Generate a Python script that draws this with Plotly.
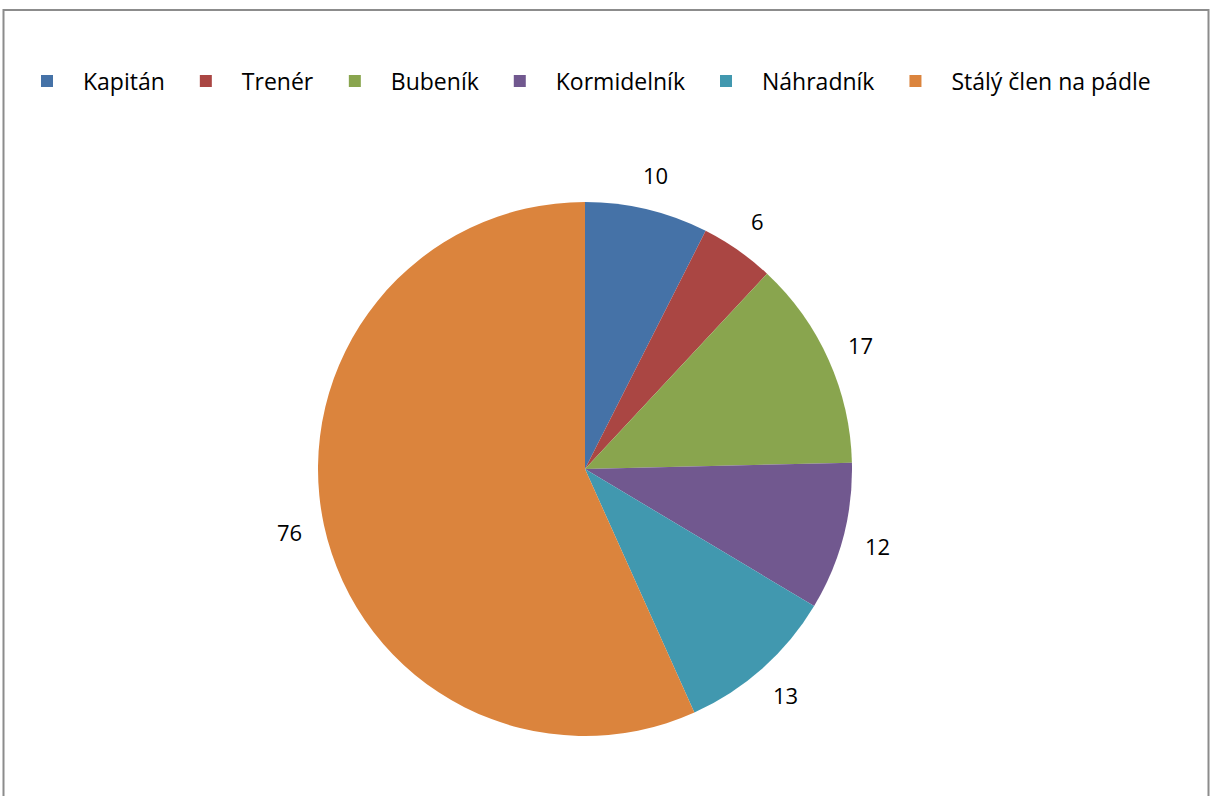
import math
import plotly.graph_objects as go

categories = ["Kapitán", "Trenér", "Bubeník", "Kormidelník", "Náhradník", "Stálý člen na pádle"]
values = [10, 6, 17, 12, 13, 76]
colors = ["#4572A7", "#AA4643", "#89A54E", "#71588F", "#4198AF", "#DB843D"]

W, H = 1214, 796
cx, cy, r = 585, 469, 267  # pie centre/radius in px
FONT = "Open Sans"

fig = go.Figure(go.Pie(
    labels=categories, values=values, sort=False, direction="clockwise", rotation=0,
    marker=dict(colors=colors, line=dict(width=0)),
    textinfo="none", hoverinfo="label+value",
    domain=dict(x=[(cx - r) / W, (cx + r) / W], y=[1 - (cy + r) / H, 1 - (cy - r) / H]),
))

# data labels outside each slice
total = sum(values)
acc = 0
annotations = []
for v in values:
    mid = (acc + v / 2) / total * 2 * math.pi
    acc += v
    d = r + 35
    px = cx + d * math.sin(mid)
    py = cy - d * math.cos(mid)
    annotations.append(dict(x=px / W, y=1 - py / H, xref="paper", yref="paper",
                            text=str(v), showarrow=False,
                            font=dict(family=FONT, size=22, color="#000000"),
                            xanchor="center", yanchor="middle"))

fig.update_layout(
    width=W, height=H,
    margin=dict(l=0, r=0, t=0, b=0),
    paper_bgcolor="white", plot_bgcolor="white",
    showlegend=True,
    legend=dict(orientation="h", x=11 / W, xanchor="left", y=1 - 81 / H, yanchor="middle",
                font=dict(family=FONT, size=23, color="#000000"),
                itemwidth=62, traceorder="normal"),
    annotations=annotations,
    shapes=[dict(type="rect", xref="paper", yref="paper",
                 x0=3.5 / W, x1=1208.5 / W, y0=-0.05, y1=1 - 10 / H,
                 line=dict(color="#8C8C8C", width=2), fillcolor="rgba(0,0,0,0)")],
)

fig.write_html("out.html", config={"displayModeBar": False},
               post_script="document.body.style.margin='0';")
